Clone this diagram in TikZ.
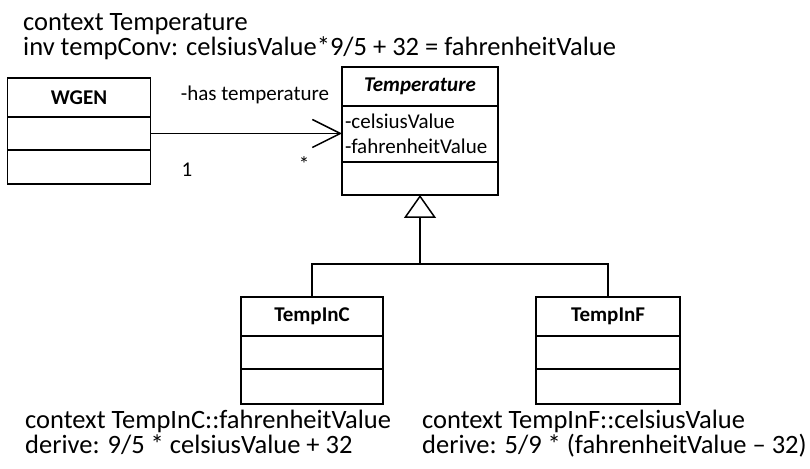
\documentclass[tikz,border=0pt]{standalone}
\usepackage{fontspec}
\setmainfont{Carlito}
\usepackage{tikz}
\usetikzlibrary{arrows.meta, positioning}
\tikzstyle{classhead} = [rectangle, draw=black, line width=1.5pt, outer sep=0pt, inner sep=0pt, minimum height=39pt, text centered, font=\fontsize{21}{25}\selectfont\bfseries]
\tikzstyle{classpart} = [rectangle, draw=black, line width=1.5pt, outer sep=0pt, inner sep=0pt, minimum height=33pt]
\tikzstyle{attrs}     = [classpart, align=left, inner xsep=3pt, font=\fontsize{21}{25}\selectfont]
\tikzstyle{ocl}       = [anchor=base west, inner sep=0pt, font=\fontsize{26.5}{25}\selectfont]
\tikzstyle{mult}      = [inner sep=0pt, font=\fontsize{21}{25}\selectfont]
\tikzstyle{assoc}     = [line width=1.5pt, -{Straight Barb[length=28pt, width=28pt]}]
\tikzstyle{inherit}   = [line width=1.5pt, -{Triangle[open, length=23pt, width=32pt]}]

\begin{document}
\begin{tikzpicture}[x=1pt, y=1pt]
    \useasboundingbox (0,0) rectangle (810,468);

    % OCL constraints
    \node (ctx)  [ocl] at (23,437)  {context Temperature};
    \node (inv)  [ocl] at (23,412)  {inv tempConv: celsiusValue*9/5 + 32 = fahrenheitValue};
    \node (ctxc) [ocl] at (25,40)   {context TempInC::fahrenheitValue};
    \node (derc) [ocl] at (25,15)   {derive: 9/5 * celsiusValue + 32};
    \node (ctxf) [ocl] at (422,40)  {context TempInF::celsiusValue};
    \node (derf) [ocl] at (422,15)  {derive: 5/9 * (fahrenheitValue – 32)};

    % classes
    \node (wgen)  [classhead, minimum width=143pt] at (79,370.5) {WGEN};
    \node (wgenA) [classpart, minimum width=143pt, below=0pt of wgen]  {};
    \node (wgenO) [classpart, minimum width=143pt, minimum height=34pt, below=0pt of wgenA] {};

    \node (tmp)  [classhead, minimum width=156pt] at (420,381.5) {\itshape Temperature};
    \node (tmpA) [attrs, text width=150pt, minimum height=56pt, below=0pt of tmp] {-celsiusValue\\-fahrenheitValue};
    \node (tmpO) [classpart, minimum width=156pt, below=0pt of tmpA] {};

    \node (tinc)  [classhead, minimum width=142pt] at (312,151.5) {TempInC};
    \node (tincA) [classpart, minimum width=142pt, below=0pt of tinc]  {};
    \node (tincO) [classpart, minimum width=142pt, minimum height=35pt, below=0pt of tincA] {};

    \node (tinf)  [classhead, minimum width=144pt] at (608,151.5) {TempInF};
    \node (tinfA) [classpart, minimum width=144pt, below=0pt of tinf]  {};
    \node (tinfO) [classpart, minimum width=144pt, minimum height=35pt, below=0pt of tinfA] {};

    % association
    \draw [assoc] (wgenA.east) -- (wgenA.east -| tmpA.west);
    \node (role) [mult] at (255,373) {-has temperature};
    \node (one)  [mult] at (187,298) {1};
    \node (many) [mult] at (304,304) {*};

    % generalization
    \coordinate (bar) at (420,204);
    \draw [line width=1.5pt] (tinc.north) |- (bar) -| (tinf.north);
    \draw [inherit] (bar) -- (tmpO.south);
\end{tikzpicture}
\end{document}
